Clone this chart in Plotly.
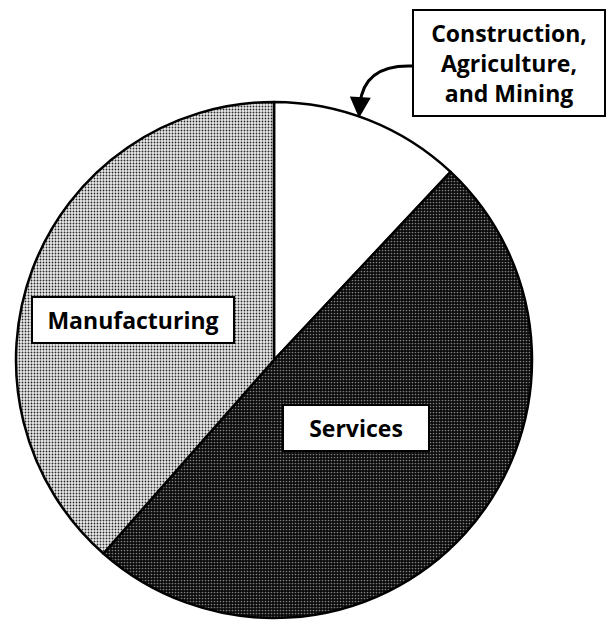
import plotly.graph_objects as go

W, H = 615, 622

categories = ["Construction, Agriculture, and Mining", "Services", "Manufacturing"]
shares = [12, 49.5, 38.5]

# pie geometry (pixels)
cx, cy, r = 274, 360, 258

def px(x):
    return x / W

def py(y):
    return 1 - y / H

fig = go.Figure()
fig.add_trace(go.Pie(
    labels=categories,
    values=shares,
    sort=False,
    direction="clockwise",
    rotation=0,
    textinfo="none",
    hoverinfo="label+percent",
    showlegend=False,
    domain=dict(x=[px(cx - r), px(cx + r)], y=[py(cy + r), py(cy - r)]),
    marker=dict(
        colors=["white", "#2a2a2a", "#e6e6e6"],
        line=dict(color="black", width=2.5),
        pattern=dict(
            shape=["", ".", "."],
            fgcolor=["white", "#808080", "#2a2a2a"],
            bgcolor=["white", "#0a0a0a", "#ebebeb"],
            size=3,
            solidity=[0.2, 0.25, 0.3],
            fillmode="replace",
        ),
    ),
))

font = dict(family="Open Sans, Noto Sans, sans-serif", size=23, color="black")
box = dict(xref="paper", yref="paper", showarrow=False, font=font,
           xanchor="center", yanchor="middle", align="center",
           bgcolor="white", bordercolor="black", borderwidth=2, borderpad=6)

fig.add_annotation(x=px(133), y=py(320), text="<b>Manufacturing</b>", width=188, **box)
fig.add_annotation(x=px(356), y=py(428), text="<b>Services</b>", width=132, **box)
fig.add_annotation(x=px(509), y=py(63),
                   text="<b>Construction,<br>Agriculture,<br>and Mining</b>", width=178, **box)

# curved leader arrow
fig.add_shape(type="path", xref="paper", yref="paper",
              path=f"M {px(413)},{py(66)} Q {px(364)},{py(64)} {px(360)},{py(104)}",
              line=dict(color="black", width=3))
fig.add_annotation(x=px(359), y=py(118), xref="paper", yref="paper",
                   ax=1, ay=-16,
                   text="", showarrow=True, arrowhead=2, arrowsize=1.4, arrowwidth=3,
                   arrowcolor="black")

fig.update_layout(width=W, height=H, margin=dict(l=0, r=0, t=0, b=0),
                  paper_bgcolor="white", plot_bgcolor="white")

fig.write_html("out.html", config={"displayModeBar": False},
               post_script="document.body.style.margin='0';")
